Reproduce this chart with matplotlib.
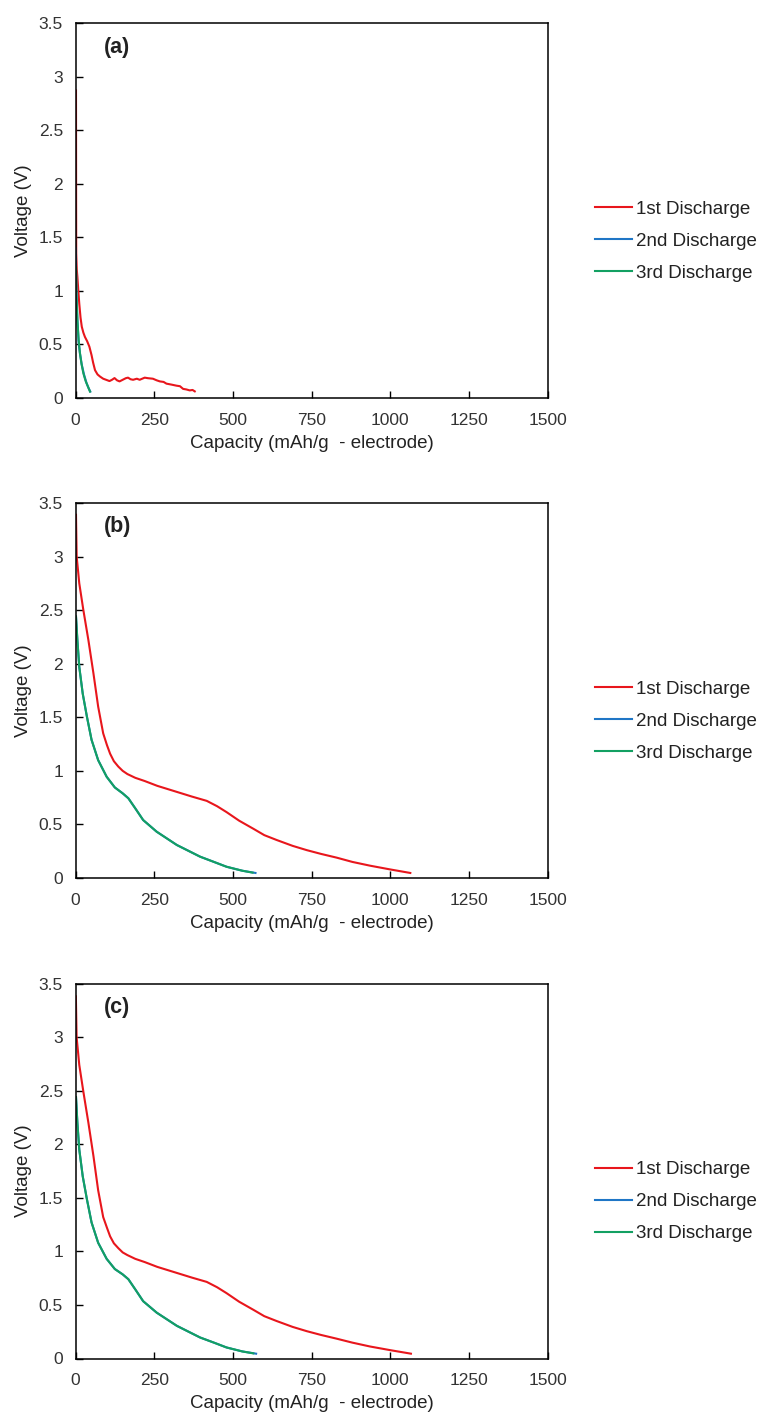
import matplotlib
matplotlib.use("Agg")
import matplotlib.pyplot as plt

plt.rcParams['font.family'] = ['Liberation Sans', 'DejaVu Sans']

# ---- Panel (a) ----
a_cap1 = [1.6, 1.8, 2.0, 2.3, 4, 6, 9, 12, 16, 20, 25, 30, 37, 44, 51, 56, 62, 70, 78, 88,
          99, 108, 116, 124, 132, 140, 150, 160, 167, 175, 183, 195, 204, 212, 220, 230,
          246, 258, 268, 280, 289, 305, 321, 332, 342, 352, 363, 372, 379]
a_v1 = [2.87, 2.40, 1.80, 1.35, 1.20, 1.13, 1.00, 0.88, 0.75, 0.665, 0.61, 0.57, 0.53,
        0.48, 0.40, 0.33, 0.26, 0.22, 0.20, 0.18, 0.168, 0.158, 0.17, 0.186, 0.165,
        0.155, 0.17, 0.185, 0.19, 0.175, 0.17, 0.18, 0.17, 0.18, 0.19, 0.185, 0.18,
        0.165, 0.155, 0.15, 0.134, 0.125, 0.115, 0.11, 0.085, 0.08, 0.071, 0.075, 0.062]
a_cap2 = [0, 1, 3, 6, 10, 14, 20, 27, 35, 42, 47]
a_v2 = [1.40, 1.28, 1.00, 0.73, 0.52, 0.42, 0.31, 0.22, 0.14, 0.09, 0.06]
a_cap3 = [1.6, 3, 6, 10, 14, 19, 25, 32, 39, 46]
a_v3 = [1.22, 0.95, 0.73, 0.54, 0.42, 0.32, 0.23, 0.16, 0.11, 0.06]

# ---- Panel (b) ----
b_cap1 = [1.6, 3.7, 12, 25, 41, 57, 72, 88, 100, 110, 122, 136, 150, 165, 190, 220, 260,
          315, 370, 417, 450, 480, 520, 565, 600, 639, 690, 735, 780, 830, 880, 936, 1000,
          1064]
b_v1 = [3.39, 3.0, 2.75, 2.5, 2.22, 1.91, 1.60, 1.35, 1.24, 1.16, 1.09, 1.04, 1.00, 0.97,
        0.935, 0.905, 0.86, 0.81, 0.76, 0.72, 0.67, 0.615, 0.535, 0.46, 0.40, 0.355, 0.30,
        0.26, 0.225, 0.19, 0.15, 0.115, 0.08, 0.047]
b_cap2 = [1.6, 6, 12, 23, 36, 51, 72, 99, 125, 150, 168, 190, 215, 258, 322, 396, 440, 480,
          530, 572]
b_v2 = [2.44, 2.22, 1.97, 1.72, 1.51, 1.29, 1.10, 0.945, 0.845, 0.79, 0.744, 0.65, 0.541,
        0.432, 0.308, 0.199, 0.15, 0.105, 0.068, 0.047]
b_cap3 = [1.6, 6, 12, 23, 36, 51, 72, 99, 125, 150, 168, 190, 215, 258, 322, 396, 440, 480,
          530, 563]
b_v3 = [2.44, 2.22, 1.97, 1.72, 1.51, 1.29, 1.10, 0.945, 0.845, 0.79, 0.744, 0.65, 0.541,
        0.432, 0.308, 0.199, 0.15, 0.105, 0.068, 0.05]

# ---- Panel (c) ----
c_cap1 = [1.2, 3.5, 12, 25, 41, 57, 72, 88, 100, 110, 122, 136, 150, 165, 190, 220, 260,
          315, 370, 417, 450, 480, 520, 565, 600, 639, 690, 735, 780, 830, 880, 936, 1000,
          1066]
c_v1 = [3.38, 3.0, 2.74, 2.49, 2.20, 1.89, 1.57, 1.32, 1.22, 1.14, 1.075, 1.03, 0.99, 0.965,
        0.93, 0.90, 0.855, 0.805, 0.755, 0.715, 0.665, 0.61, 0.53, 0.455, 0.395, 0.35, 0.295,
        0.255, 0.22, 0.185, 0.148, 0.112, 0.078, 0.045]
c_cap2 = [1.6, 6, 12, 23, 36, 51, 72, 99, 125, 150, 168, 190, 215, 258, 322, 396, 440, 480,
          530, 574]
c_v2 = [2.44, 2.20, 1.95, 1.70, 1.49, 1.27, 1.08, 0.93, 0.835, 0.785, 0.74, 0.645, 0.535,
        0.428, 0.305, 0.196, 0.148, 0.103, 0.066, 0.045]
c_cap3 = [1.6, 6, 12, 23, 36, 51, 72, 99, 125, 150, 168, 190, 215, 258, 322, 396, 440, 480,
          530, 565]
c_v3 = [2.44, 2.20, 1.95, 1.70, 1.49, 1.27, 1.08, 0.93, 0.835, 0.785, 0.74, 0.645, 0.535,
        0.428, 0.305, 0.196, 0.148, 0.103, 0.066, 0.048]

series_labels = ["1st Discharge", "2nd Discharge", "3rd Discharge"]
series_colors = ["#E8161C", "#1F76C6", "#13A062"]
panel_tags = ["(a)", "(b)", "(c)"]
x_ticks = [0, 250, 500, 750, 1000, 1250, 1500]
y_ticks = [0, 0.5, 1, 1.5, 2, 2.5, 3, 3.5]
y_tick_labels = ["0", "0.5", "1", "1.5", "2", "2.5", "3", "3.5"]

panels = [
    [(a_cap1, a_v1), (a_cap2, a_v2), (a_cap3, a_v3)],
    [(b_cap1, b_v1), (b_cap2, b_v2), (b_cap3, b_v3)],
    [(c_cap1, c_v1), (c_cap2, c_v2), (c_cap3, c_v3)],
]

W, H = 764, 1416
fig = plt.figure(figsize=(W / 100, H / 100), dpi=100)

left_px, right_px = 75.5, 547.5
tops_px = [23, 503, 983.5]
height_px = 375

for tag, series, top in zip(panel_tags, panels, tops_px):
    ax = fig.add_axes([left_px / W, 1 - (top + height_px) / H,
                       (right_px - left_px) / W, height_px / H])
    for (xs, ys), lab, col in zip(series, series_labels, series_colors):
        ax.plot(xs, ys, color=col, lw=1.5, label=lab, solid_joinstyle='round')
    ax.set_xlim(0, 1500)
    ax.set_ylim(0, 3.5)
    ax.set_xticks(x_ticks)
    ax.set_yticks(y_ticks)
    ax.set_yticklabels(y_tick_labels)
    ax.tick_params(direction='in', length=5, width=1, labelsize=12.5, colors='black')
    ax.tick_params(axis='x', pad=10.5)
    ax.tick_params(axis='y', pad=9)
    for tl in ax.get_xticklabels() + ax.get_yticklabels():
        tl.set_color('#333333')
    for sp in ax.spines.values():
        sp.set_linewidth(1.1)
        sp.set_color('black')
    ax.set_xlabel("Capacity (mAh/g  - electrode)", fontsize=13.5, color='#222222', labelpad=5)
    ax.set_ylabel("Voltage (V)", fontsize=13.5, color='#222222', labelpad=4.5)
    ax.text(0.061, 0.936, tag, transform=ax.transAxes, fontsize=15.5,
            fontweight='bold', ha='left', va='center', color='#222222')
    ax.legend(loc='center left', bbox_to_anchor=(1.1, 0.418), frameon=False,
              fontsize=13.5, handlelength=2.0, handletextpad=0.2, labelspacing=0.8,
              borderpad=0, borderaxespad=0, labelcolor='#222222')

fig.savefig("out.png", dpi=100)
